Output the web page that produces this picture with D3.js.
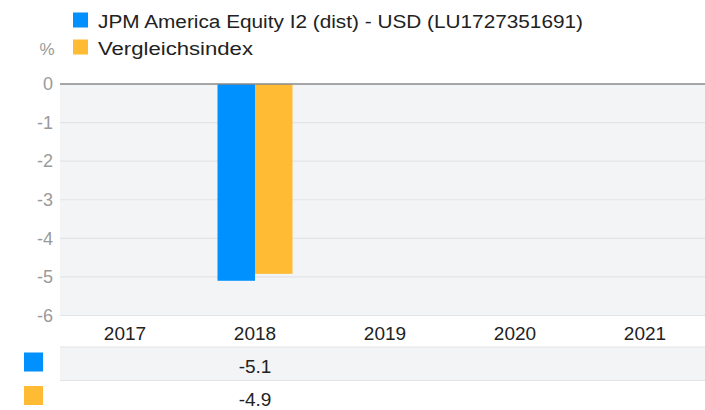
<!DOCTYPE html>
<html><head><meta charset="utf-8">
<script src="https://cdn.jsdelivr.net/npm/d3@7"></script>
<style>
html,body{margin:0;padding:0;background:#fff;}
svg{display:block;font-family:"Liberation Sans", Arial, sans-serif;}
</style></head>
<body>
<svg id="c" width="705" height="410"></svg>
<script>
const years = ["2017","2018","2019","2020","2021"];
const seriesNames = ["JPM America Equity I2 (dist) - USD (LU1727351691)","Vergleichsindex"];
const fundValues = [null, -5.1, null, null, null];
const indexValues = [null, -4.92, null, null, null];
const yTicks = [0,-1,-2,-3,-4,-5,-6];
const colors = ["#0091FF","#FFBB33"];

const svg = d3.select("#c");
const pLeft = 60, pRight = 710, pTop = 84, pBottom = 315.5;

const x = d3.scaleBand().domain(years).range([pLeft, pRight]).padding(0);
const xi = d3.scaleBand().domain([0,1]).range([0, 75]).padding(0);
const y = d3.scaleLinear().domain([-6, 0]).range([pBottom, pTop]);

// plot background
svg.append("rect").attr("x", pLeft).attr("y", y(0)).attr("width", 705-pLeft).attr("height", y(-6)-y(0)).attr("fill","#f3f4f6");

// grid
svg.append("g").selectAll("line").data(yTicks.filter(d=>d!==0)).join("line")
  .attr("x1", pLeft).attr("x2", 705).attr("y1", d=>y(d)).attr("y2", d=>y(d))
  .attr("stroke","#e3e4e6").attr("stroke-width",1.2);

// y labels
svg.append("g").selectAll("text").data(yTicks).join("text")
  .attr("x", 53).attr("y", d=>y(d)).attr("dy","0.35em").attr("text-anchor","end")
  .attr("fill","#9a9a9a").attr("font-size",18).text(d=>d3.format("d")(d).replace("−","-"));

svg.append("text").attr("x",39.5).attr("y",55).attr("fill","#9a9a9a").attr("font-size",17).text("%");

// bars
const all = [fundValues, indexValues];
all.forEach((vals, s) => {
  svg.append("g").selectAll("rect").data(years.map((yr,i)=>({yr, v: vals[i]})).filter(d=>d.v!==null)).join("rect")
    .attr("x", d => x(d.yr) + (x.bandwidth()-75)/2 + xi(s))
    .attr("width", xi.bandwidth())
    .attr("y", d => y(Math.max(0,d.v)))
    .attr("height", d => Math.abs(y(d.v)-y(0)))
    .attr("fill", colors[s]);
});

// zero line
svg.append("line").attr("x1", pLeft).attr("x2", 705).attr("y1", y(0)).attr("y2", y(0))
  .attr("stroke","#8a8a8a").attr("stroke-width",1.5);

// x labels
svg.append("g").selectAll("text").data(years).join("text")
  .attr("x", d=>x(d)+x.bandwidth()/2).attr("y", 339.5).attr("text-anchor","middle")
  .attr("fill","#222").attr("font-size",19).text(d=>d);

// table
const rowTop = [347, 380.5];
svg.append("rect").attr("x", pLeft).attr("y", rowTop[0]).attr("width", 705-pLeft).attr("height", rowTop[1]-rowTop[0]).attr("fill","#f3f4f6");
rowTop.forEach(r => svg.append("line").attr("x1", pLeft).attr("x2", 705).attr("y1", r).attr("y2", r).attr("stroke","#e3e4e6").attr("stroke-width",1.2));
all.forEach((vals, s) => {
  svg.append("rect").attr("x",24).attr("y", rowTop[s]+5.5).attr("width",19).attr("height",19).attr("fill",colors[s]);
  svg.append("g").selectAll("text").data(years.map((yr,i)=>({yr, v: vals[i]})).filter(d=>d.v!==null)).join("text")
    .attr("x", d=>x(d.yr)+x.bandwidth()/2).attr("y", rowTop[s]+25.5).attr("text-anchor","middle")
    .attr("fill","#222").attr("font-size",19).text(d=>d3.format(".1f")(d.v).replace("−","-"));
});

// legend
const legendWidths = [485, 155];
seriesNames.forEach((n, i) => {
  svg.append("rect").attr("x",73).attr("y",12.5+i*27).attr("width",15).attr("height",15).attr("fill",colors[i]);
  svg.append("text").attr("x",98).attr("y",27.5+i*27).attr("fill","#222").attr("font-size",18)
    .attr("textLength", legendWidths[i]).attr("lengthAdjust","spacingAndGlyphs").text(n);
});
</script>
</body></html>
